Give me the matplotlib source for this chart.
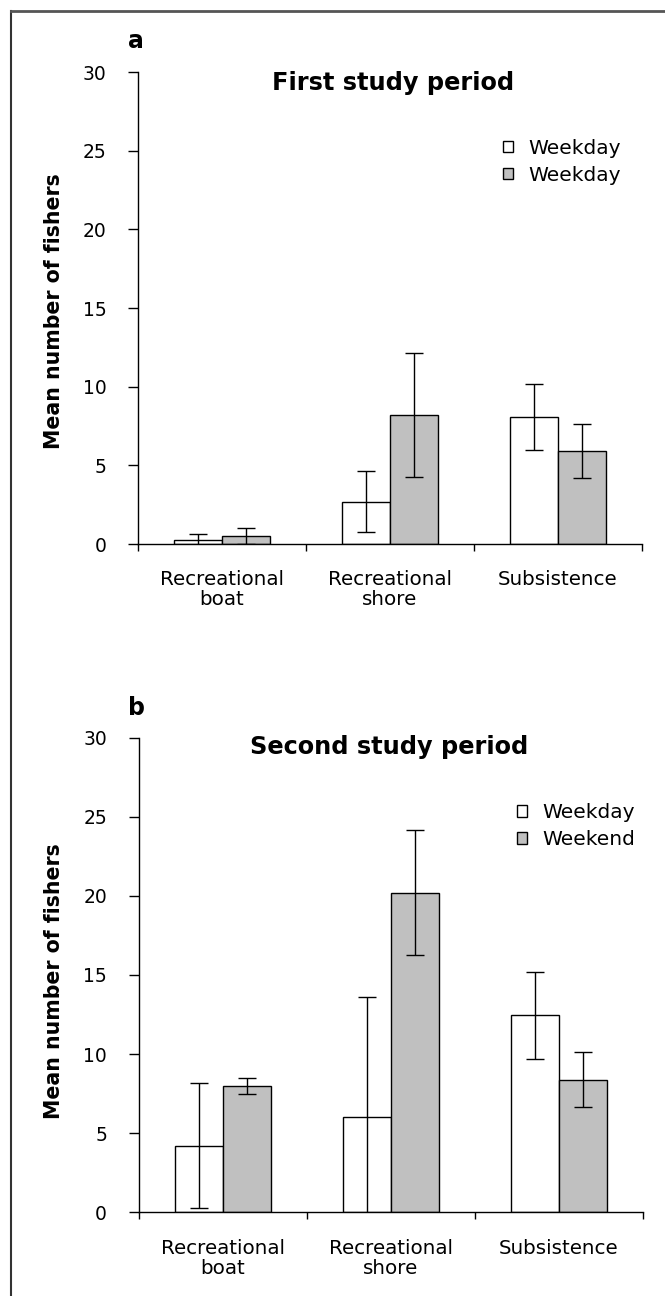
import matplotlib
matplotlib.use("Agg")
import matplotlib.pyplot as plt
from matplotlib.patches import Patch
from matplotlib.lines import Line2D
import numpy as np

plt.rcParams['font.family'] = ['DejaVu Sans']

categories = ["Recreational\nboat", "Recreational\nshore", "Subsistence"]

# Panel a: first study period
a_weekday = [0.25, 2.7, 8.05]
a_weekday_err = [0.38, 1.93, 2.1]
a_weekend = [0.51, 8.2, 5.9]
a_weekend_err = [0.5, 3.96, 1.73]
a_legend = ["Weekday", "Weekday"]

# Panel b: second study period
b_weekday = [4.2, 6.0, 12.45]
b_weekday_err = [3.95, 7.6, 2.75]
b_weekend = [8.0, 20.2, 8.38]
b_weekend_err = [0.5, 3.95, 1.73]
b_legend = ["Weekday", "Weekend"]

yticks = [0, 5, 10, 15, 20, 25, 30]

W, H = 665, 1296
fig = plt.figure(figsize=(W / 100, H / 100), dpi=100)

# Outer border (top and left lines)
fig.add_artist(Line2D([11 / W, 11 / W], [0, 1 - 11 / H], color='#333333', lw=1.5,
                      transform=fig.transFigure))
fig.add_artist(Line2D([11 / W, 1], [1 - 11 / H, 1 - 11 / H], color='#555555', lw=2.0,
                      transform=fig.transFigure))


def panel(rect, wd, wd_err, we, we_err, legend_labels, title, title_xy, leg_xy):
    ax = fig.add_axes(rect)
    x = np.arange(len(categories))
    bw = 1 / 3.5
    ax.bar(x - bw / 2, wd, bw, color='white', edgecolor='black', lw=1.0, zorder=2)
    ax.bar(x + bw / 2, we, bw, color='#c0c0c0', edgecolor='black', lw=1.0, zorder=2)
    ax.errorbar(x - bw / 2, wd, yerr=wd_err, fmt='none', ecolor='black', elinewidth=1.0,
                capsize=6.2, capthick=1.0, zorder=3)
    ax.errorbar(x + bw / 2, we, yerr=we_err, fmt='none', ecolor='black', elinewidth=1.0,
                capsize=6.2, capthick=1.0, zorder=3)
    ax.set_xlim(-0.5, len(categories) - 0.5)
    ax.set_ylim(0, 30)
    ax.set_yticks(yticks)
    ax.tick_params(axis='y', direction='out', length=7.2, width=1, pad=15.5, labelsize=13.5)
    ax.set_xticks(np.arange(-0.5, len(categories), 1.0))
    ax.set_xticklabels([])
    ax.tick_params(axis='x', which='major', direction='out', length=5, width=1)
    ax.set_xticks(x, minor=True)
    ax.set_xticklabels(categories, minor=True, fontsize=14.3, linespacing=1.07)
    ax.tick_params(axis='x', which='minor', length=0, pad=19)
    for s in ['top', 'right']:
        ax.spines[s].set_visible(False)
    for s in ['left', 'bottom']:
        ax.spines[s].set_linewidth(1.0)
        ax.spines[s].set_color('black')
    ax.text(title_xy[0], title_xy[1], title, transform=ax.transAxes, ha='center',
            va='center', fontsize=17.3, fontweight='bold')
    handles = [Patch(facecolor='white', edgecolor='black', lw=1.0),
               Patch(facecolor='#c0c0c0', edgecolor='black', lw=1.0)]
    ax.legend(handles, legend_labels, loc='upper left', bbox_to_anchor=leg_xy,
              frameon=False, fontsize=14.5, handlelength=0.5, handleheight=0.5,
              handletextpad=0.78, labelspacing=0.4, borderpad=0, borderaxespad=0)
    return ax


ax_a = panel([138 / W, 1 - 544 / H, 504 / W, 472 / H], a_weekday, a_weekday_err,
             a_weekend, a_weekend_err, a_legend, "First study period",
             (0.506, 0.977), (0.7236, 0.859))
ax_b = panel([138.5 / W, 1 - 1212.3 / H, 504.5 / W, 474.6 / H], b_weekday, b_weekday_err,
             b_weekend, b_weekend_err, b_legend, "Second study period",
             (0.4965, 0.980), (0.750, 0.862))

fig.text(136 / W, 1 - 48 / H, "a", ha='center', va='baseline', fontsize=17, fontweight='bold')
fig.text(136 / W, 1 - 715 / H, "b", ha='center', va='baseline', fontsize=17, fontweight='bold')

fig.text(60 / W, 1 - 311 / H, "Mean number of fishers", rotation=90, rotation_mode='anchor',
         ha='center', va='baseline', fontsize=14.8, fontweight='bold')
fig.text(60 / W, 1 - 981 / H, "Mean number of fishers", rotation=90, rotation_mode='anchor',
         ha='center', va='baseline', fontsize=14.8, fontweight='bold')

fig.savefig("out.png", dpi=100)
